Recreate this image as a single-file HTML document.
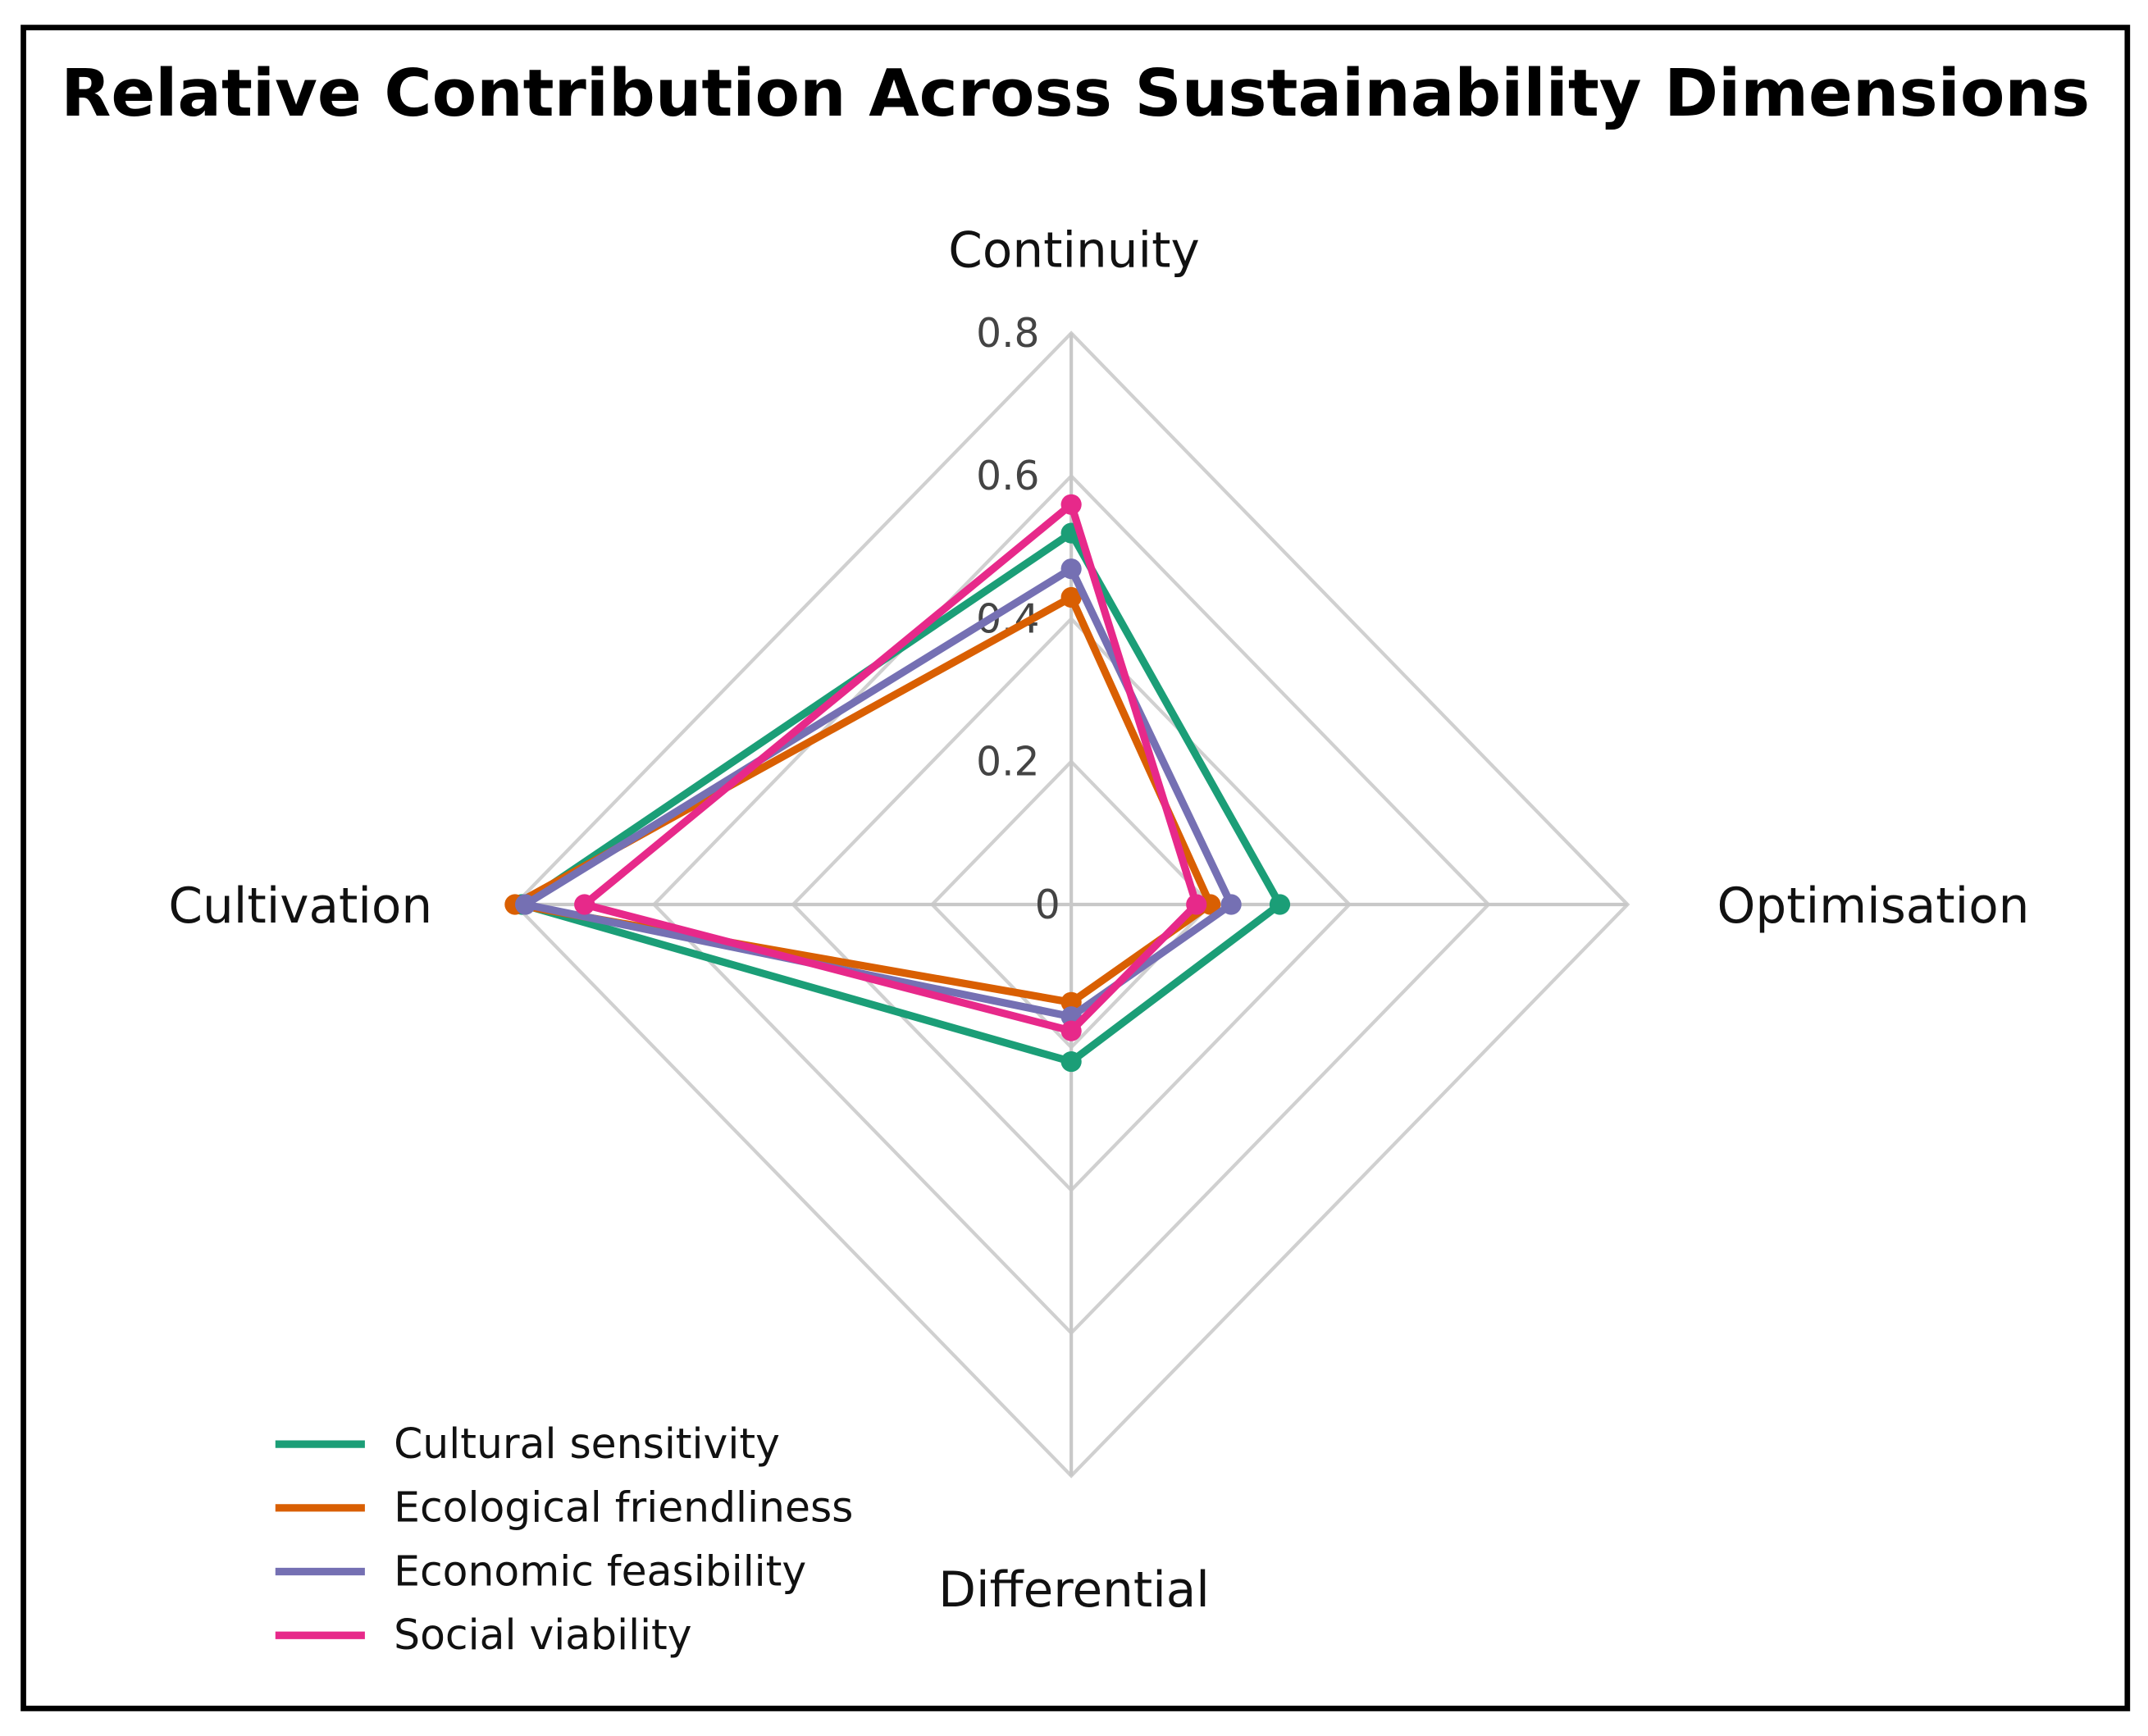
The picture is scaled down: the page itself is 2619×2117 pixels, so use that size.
<!DOCTYPE html>
<html><head><meta charset="utf-8"><style>
html,body{margin:0;padding:0;background:#fff;}
svg{display:block;}
text{font-family:"DejaVu Sans","Liberation Sans",sans-serif;}
</style></head><body>
<svg id="chart" width="2619" height="2117" viewBox="0 0 1560 1261" preserveAspectRatio="none" xmlns="http://www.w3.org/2000/svg">
<rect x="17" y="20" width="1528" height="1221" fill="#fff" stroke="#000" stroke-width="4"/>
<text x="781" y="84" text-anchor="middle" font-size="47.3" font-weight="bold" fill="#000">Relative Contribution Across Sustainability Dimensions</text>
<g id="grid"></g>
<g id="series"></g>
<g id="labels"></g>
<g id="legend"></g>
</svg>
<script>
const axes = ["Continuity","Optimisation","Differential","Cultivation"];
const ticks = [0, 0.2, 0.4, 0.6, 0.8];
const tickLabels = ["0","0.2","0.4","0.6","0.8"];
const seriesNames = ["Cultural sensitivity","Ecological friendliness","Economic feasibility","Social viability"];
const colors = ["#1b9e77","#d95f02","#7570b3","#e7298a"];
const cultural = [0.52, 0.30, 0.22, 0.79];
const ecological = [0.43, 0.20, 0.137, 0.80];
const economic = [0.47, 0.23, 0.157, 0.785];
const social = [0.56, 0.18, 0.177, 0.70];
const seriesValues = [cultural, ecological, economic, social];

const NS = "http://www.w3.org/2000/svg";
const cx = 778, cy = 657, rx = 404, ry = 415, maxV = 0.8;
function pt(i, v){
  const f = v / maxV;
  if (i === 0) return [cx, cy - ry*f];
  if (i === 1) return [cx + rx*f, cy];
  if (i === 2) return [cx, cy + ry*f];
  return [cx - rx*f, cy];
}
function mk(tag, attrs, parent){
  const e = document.createElementNS(NS, tag);
  for (const k in attrs) e.setAttribute(k, attrs[k]);
  parent.appendChild(e);
  return e;
}
const grid = document.getElementById('grid');
ticks.forEach((t, k) => {
  if (t === 0) return;
  const p = axes.map((a, i) => pt(i, t).join(',')).join(' ');
  const poly = mk('polygon', {points: p, fill: 'none', stroke: '#d0d0d0', 'stroke-width': 2.5}, grid);
  
  
});
axes.forEach((a, i) => {
  const e = pt(i, maxV);
  const l = mk('line', {x1: cx, y1: cy, x2: e[0], y2: e[1], stroke: '#c8c8c8', 'stroke-width': 2.5}, grid);
  
  
});
ticks.forEach((t, k) => {
  const p = pt(0, t);
  const tx = mk('text', {x: t === 0 ? 770 : 755, y: p[1] + 10, 'text-anchor': 'end', 'font-size': 29, fill: '#444'}, grid);
  tx.textContent = tickLabels[k];
  
  
});
const sg = document.getElementById('series');
seriesValues.forEach((vals, s) => {
  const pts = vals.map((v, i) => pt(i, v));
  const poly = mk('polygon', {points: pts.map(p => p.join(',')).join(' '), fill: 'none', stroke: colors[s], 'stroke-width': 5.5, 'stroke-linejoin': 'round'}, sg);
  
  
  pts.forEach((p, i) => {
    const c = mk('circle', {cx: p[0], cy: p[1], r: 7.5, fill: colors[s]}, sg);
    
    
  });
});
const lg = document.getElementById('labels');
const labelPos = [[780,194,'middle'],[1247,670,'start'],[780,1167,'middle'],[314,670,'end']];
axes.forEach((a, i) => {
  const t = mk('text', {x: labelPos[i][0], y: labelPos[i][1], 'text-anchor': labelPos[i][2], 'font-size': 35.5, fill: '#111'}, lg);
  t.textContent = a;
  
  
});
const leg = document.getElementById('legend');
seriesNames.forEach((n, s) => {
  const y = 1049 + s * 46.3;
  const l = mk('line', {x1: 200, y1: y, x2: 265, y2: y, stroke: colors[s], 'stroke-width': 5.5}, leg);
  
  
  const t = mk('text', {x: 286, y: y + 10, 'font-size': 30, fill: '#111'}, leg);
  t.textContent = n;
  
  
});
</script>
</body></html>
